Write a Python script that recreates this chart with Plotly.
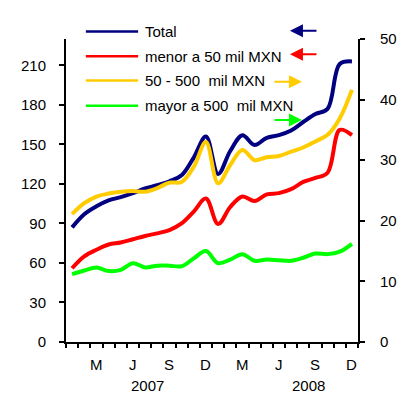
import plotly.graph_objects as go

# monthly values, Jan 2007 - Dec 2008
months = list(range(24))
total = [87, 97, 103, 107.5, 110, 113, 116.5, 119, 122, 126.5, 140, 156,
         127.5, 145, 157, 149.5, 155, 157, 160.5, 167, 173, 177, 211, 213]
menor_50 = [56, 65, 70, 74, 75.5, 78, 80.5, 82.5, 85, 90, 99, 109,
            89.5, 102.5, 110.5, 107, 112, 113, 116, 121.5, 124.5, 128.5, 161, 157]
de_50_500 = [21.1, 22.9, 24.0, 24.5, 24.8, 24.9, 24.8, 25.4, 26.3, 26.4, 28.9, 33.0,
             26.2, 29.2, 31.7, 30.0, 30.5, 30.7, 31.4, 32.1, 33.1, 34.2, 36.9, 41.6]
mayor_500 = [11.2, 11.8, 12.3, 11.7, 11.9, 13.0, 12.3, 12.6, 12.6, 12.5, 13.8, 15.0,
             13.0, 13.6, 14.5, 13.4, 13.6, 13.5, 13.4, 13.9, 14.6, 14.5, 14.9, 16.2]

names = ["Total", "menor a 50 mil MXN", "50 - 500  mil MXN", "mayor a 500  mil MXN"]
colors = ["#000080", "#ff0000", "#ffcc00", "#00ff00"]

month_pos = [2, 5, 8, 11, 14, 17, 20, 23]
month_txt = ["M", "J", "S", "D", "M", "J", "S", "D"]
year_pos = [6.2, 19.4]
year_txt = ["2007", "2008"]

font = "Liberation Sans, Arial, sans-serif"

fig = go.Figure()
series = [total, menor_50, de_50_500, mayor_500]
axes = ["y", "y", "y2", "y2"]
for vals, nm, col, ax in zip(series, names, colors, axes):
    fig.add_trace(go.Scatter(x=months, y=vals, name=nm, yaxis=ax, showlegend=False,
                             line=dict(color=col, width=4, shape="spline")))

# hand-made legend (longer sample lines than plotly's own)
leg_y = [1.025, 0.943, 0.863, 0.780]
for nm, col, ly in zip(names, colors, leg_y):
    fig.add_shape(type="line", xref="paper", yref="paper", x0=0.068, x1=0.247,
                  y0=ly, y1=ly, line=dict(color=col, width=2.5))
    fig.add_annotation(x=0.265, y=ly, xref="paper", yref="paper", text=nm,
                       showarrow=False, xanchor="left", yanchor="middle",
                       font=dict(size=15, color="black", family=font))

# arrows telling which axis each series uses
arrows = [(0.767, 1.027, 28), (0.767, 0.950, 28), (0.808, 0.859, -29), (0.808, 0.733, -29)]
for col, (ax_x, ax_y, dx) in zip(colors, arrows):
    fig.add_annotation(x=ax_x, y=ax_y, xref="paper", yref="paper", text="",
                       showarrow=True, ax=dx, ay=0, arrowcolor=col,
                       arrowwidth=2, arrowhead=2, arrowsize=1.3)

for p, t in zip(month_pos, month_txt):
    fig.add_annotation(x=p, y=-0.109, xref="x", yref="paper", text=t, showarrow=False,
                       font=dict(size=15, color="black", family=font))
for p, t in zip(year_pos, year_txt):
    fig.add_annotation(x=p, y=-0.178, xref="x", yref="paper", text=t, showarrow=False,
                       font=dict(size=15, color="black", family=font))

fig.update_layout(
    width=406, height=408,
    margin=dict(l=58, r=56, t=31, b=74),
    paper_bgcolor="white", plot_bgcolor="white",
    font=dict(family=font, size=15, color="black"),
    xaxis=dict(range=[-0.5, 23.5], showgrid=False, zeroline=False,
               showline=True, linecolor="black", linewidth=2,
               tickmode="linear", tick0=-0.5, dtick=1, ticks="outside",
               ticklen=4, tickwidth=2, tickcolor="black", showticklabels=False),
    yaxis=dict(range=[0, 230], tickvals=[0, 30, 60, 90, 120, 150, 180, 210],
               showgrid=False, zeroline=False, showline=True, linecolor="black",
               linewidth=2, ticks="outside", ticklen=5, tickwidth=2, tickcolor="black",
               ticklabelstandoff=10),
    yaxis2=dict(range=[0, 50], tickvals=[0, 10, 20, 30, 40, 50], overlaying="y",
                side="right", showgrid=False, zeroline=False, showline=True,
                linecolor="black", linewidth=2, ticks="outside", ticklen=5,
                tickwidth=2, tickcolor="black", ticklabelstandoff=12),
)

fig.write_html("out.html")
